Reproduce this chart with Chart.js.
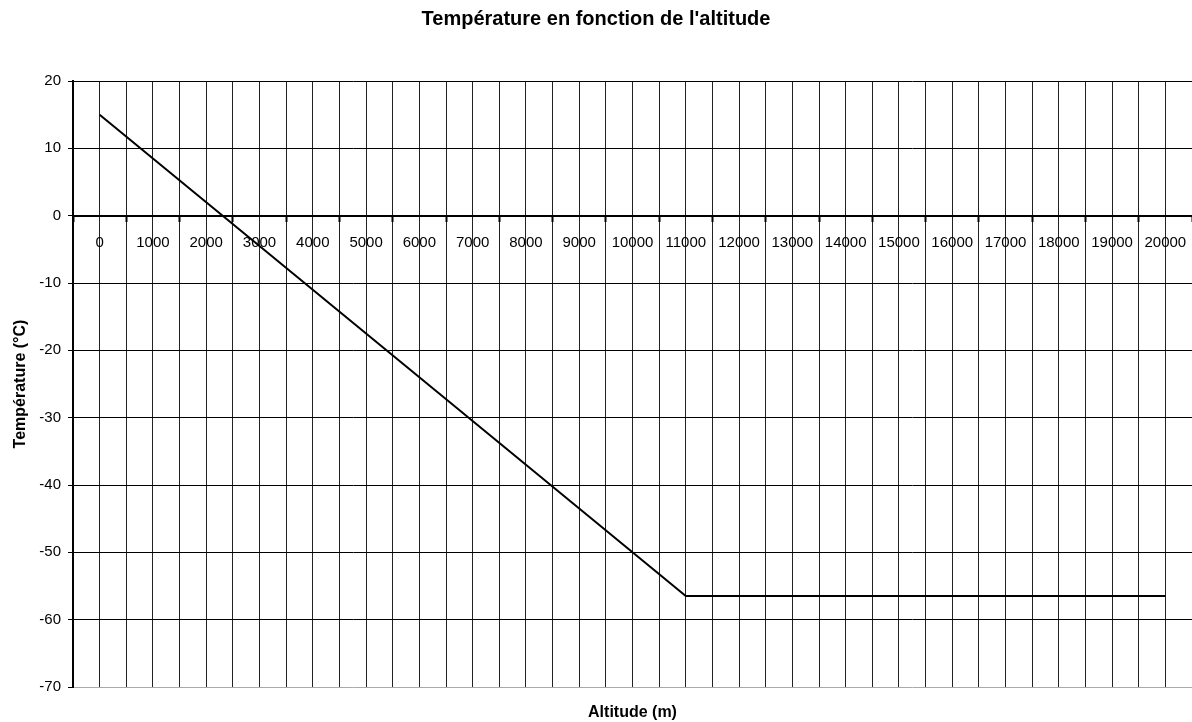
<!DOCTYPE html>
<html>
<head>
<meta charset="utf-8">
<script src="https://cdn.jsdelivr.net/npm/chart.js@4/dist/chart.umd.min.js"></script>
<style>
html,body{margin:0;padding:0;background:#fff;}
#wrap{width:1192px;height:722px;}
</style>
</head>
<body>
<div id="wrap"><canvas id="c" width="1192" height="722"></canvas></div>
<script>
// Data
const altitudes = [0,1000,2000,3000,4000,5000,6000,7000,8000,9000,10000,11000,12000,13000,14000,15000,16000,17000,18000,19000,20000];
const temperatures = [15,8.5,2,-4.5,-11,-17.5,-24,-30.5,-37,-43.5,-50,-56.5,-56.5,-56.5,-56.5,-56.5,-56.5,-56.5,-56.5,-56.5,-56.5];
const yTickValues = [-70,-60,-50,-40,-30,-20,-10,0,10,20];

const chartTitle = "Température en fonction de l'altitude";
const xTitle = "Altitude (m)";
const yTitle = "Température (°C)";

const FONT = "'Liberation Sans', Arial, sans-serif";

const points = altitudes.map((a, i) => ({x: a, y: temperatures[i]}));

new Chart(document.getElementById('c'), {
  type: 'line',
  data: {
    datasets: [{
      data: points,
      borderColor: '#000',
      borderWidth: 2,
      pointRadius: 0,
      pointHoverRadius: 0,
      tension: 0,
      fill: false
    }]
  },
  options: {
    responsive: false,
    animation: false,
    devicePixelRatio: 1,
    layout: {padding: 0},
    plugins: {
      legend: {display: false},
      tooltip: {enabled: false},
      title: {
        display: true,
        text: chartTitle,
        color: '#000',
        font: {family: FONT, size: 20, weight: 'bold', lineHeight: 1.2},
        padding: {top: 7, bottom: 50}
      }
    },
    scales: {
      x: {
        type: 'linear',
        position: {y: 0},
        min: -500,
        max: 20500,
        border: {display: true, color: '#000', width: 2},
        grid: {
          color: '#222',
          lineWidth: 1,
          drawTicks: true,
          tickLength: 5,
          tickWidth: 2,
          tickColor: (ctx) => (ctx.tick && Math.abs(ctx.tick.value % 1000) === 500) ? '#000' : 'rgba(0,0,0,0)'
        },
        ticks: {
          stepSize: 500,
          autoSkip: false,
          maxRotation: 0,
          minRotation: 0,
          padding: 13,
          color: '#000',
          font: {family: FONT, size: 15},
          callback: (v) => (v >= 0 && v % 1000 === 0) ? String(v) : ''
        },
        afterFit: (s) => { s.paddingLeft = 0; s.paddingRight = 0; }
      },
      x2: {
        type: 'linear',
        position: 'bottom',
        display: true,
        min: 0,
        max: 1,
        grid: {display: false},
        border: {display: false},
        ticks: {display: false},
        title: {
          display: true,
          text: xTitle,
          color: '#000',
          font: {family: FONT, size: 16, weight: 'bold', lineHeight: 1.2},
          padding: {top: 0, bottom: 0}
        },
        afterFit: (s) => { s.height = 35; s.paddingLeft = 0; s.paddingRight = 0; }
      },
      y: {
        type: 'linear',
        position: 'left',
        min: -70,
        max: 20,
        afterBuildTicks: (s) => { s.ticks = yTickValues.map(v => ({value: v})); },
        border: {display: true, color: '#000', width: 2},
        grid: {
          color: (ctx) => (ctx.tick && ctx.tick.value === -70) ? '#aaa' : '#000',
          lineWidth: 1,
          tickLength: 5,
          tickColor: '#000'
        },
        ticks: {
          padding: 7,
          color: '#000',
          font: {family: FONT, size: 15}
        },
        title: {
          display: true,
          text: yTitle,
          color: '#000',
          font: {family: FONT, size: 16, weight: 'bold', lineHeight: 1.2},
          padding: {top: 11, bottom: 0}
        },
        afterFit: (s) => { s.width = 73; }
      }
    }
  }
});
</script>
</body>
</html>
